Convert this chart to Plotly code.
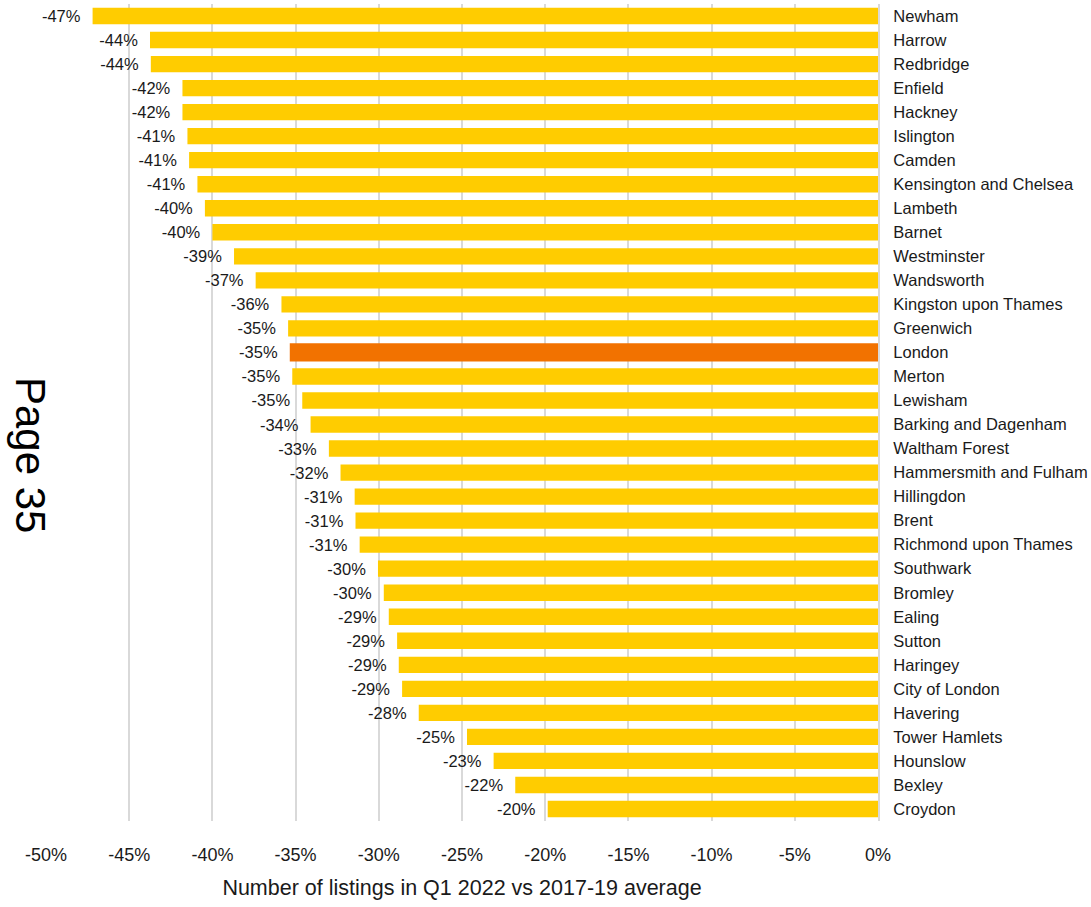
import plotly.graph_objects as go

boroughs = ["Newham", "Harrow", "Redbridge", "Enfield", "Hackney", "Islington", "Camden",
            "Kensington and Chelsea", "Lambeth", "Barnet", "Westminster", "Wandsworth",
            "Kingston upon Thames", "Greenwich", "London", "Merton", "Lewisham",
            "Barking and Dagenham", "Waltham Forest", "Hammersmith and Fulham", "Hillingdon",
            "Brent", "Richmond upon Thames", "Southwark", "Bromley", "Ealing", "Sutton",
            "Haringey", "City of London", "Havering", "Tower Hamlets", "Hounslow", "Bexley",
            "Croydon"]
change_pct = [-47.2, -43.75, -43.7, -41.8, -41.8, -41.5, -41.4, -40.9, -40.45, -40.0,
              -38.7, -37.4, -35.85, -35.45, -35.35, -35.2, -34.6, -34.1, -33.0, -32.3,
              -31.45, -31.4, -31.15, -30.05, -29.7, -29.4, -28.9, -28.8, -28.6, -27.6,
              -24.7, -23.1, -21.8, -19.85]
data_labels = ["-47%", "-44%", "-44%", "-42%", "-42%", "-41%", "-41%", "-41%", "-40%", "-40%",
               "-39%", "-37%", "-36%", "-35%", "-35%", "-35%", "-35%", "-34%", "-33%", "-32%",
               "-31%", "-31%", "-31%", "-30%", "-30%", "-29%", "-29%", "-29%", "-29%", "-28%",
               "-25%", "-23%", "-22%", "-20%"]
x_ticks = [-50, -45, -40, -35, -30, -25, -20, -15, -10, -5, 0]
x_tick_labels = ["-50%", "-45%", "-40%", "-35%", "-30%", "-25%", "-20%", "-15%", "-10%", "-5%", "0%"]

YELLOW = "#FFCC00"
ORANGE = "#F27200"
colors = [ORANGE if b == "London" else YELLOW for b in boroughs]
widths = [0.76 if b == "London" else 0.68 for b in boroughs]

FONT = "Liberation Sans, Arial, sans-serif"
PAD = "\u00a0\u00a0"

fig = go.Figure(go.Bar(
    x=change_pct, y=boroughs, orientation="h",
    marker=dict(color=colors, line=dict(width=0)),
    width=widths,
    text=[t + PAD for t in data_labels], textposition="outside", constraintext="none",
    textfont=dict(family=FONT, size=16.5, color="#1a1a1a"),
    cliponaxis=False, hoverinfo="skip",
))

fig.update_layout(
    width=1091, height=907,
    margin=dict(l=46, r=213, t=4, b=86, autoexpand=False),
    paper_bgcolor="white", plot_bgcolor="white",
    showlegend=False,
    bargap=0.3,
    font=dict(family=FONT, color="#1a1a1a"),
)
fig.update_xaxes(
    range=[-50, 0], tickvals=x_ticks, ticktext=x_tick_labels,
    showgrid=True, gridcolor="#D9D9D9", gridwidth=1.5,
    zeroline=False, showline=False,
    tickfont=dict(size=18, family=FONT, color="#1a1a1a"),
    ticks="", ticklabelstandoff=21,
    title=dict(text="Number of listings in Q1 2022 vs 2017-19 average",
               font=dict(size=21.5, family=FONT, color="#1a1a1a"), standoff=15),
)
fig.update_yaxes(
    autorange="reversed", side="right",
    showline=True, linecolor="#D9D9D9", linewidth=2,
    showgrid=False, ticks="", ticklabelstandoff=10,
    tickfont=dict(size=16.5, family=FONT, color="#1a1a1a"),
)
fig.add_annotation(
    text="Page 35", xref="paper", yref="paper", x=-0.0192, y=0.448,
    xanchor="center", yanchor="middle",
    showarrow=False, textangle=90, font=dict(size=42, family=FONT, color="black"),
)

fig.write_html("out.html")
